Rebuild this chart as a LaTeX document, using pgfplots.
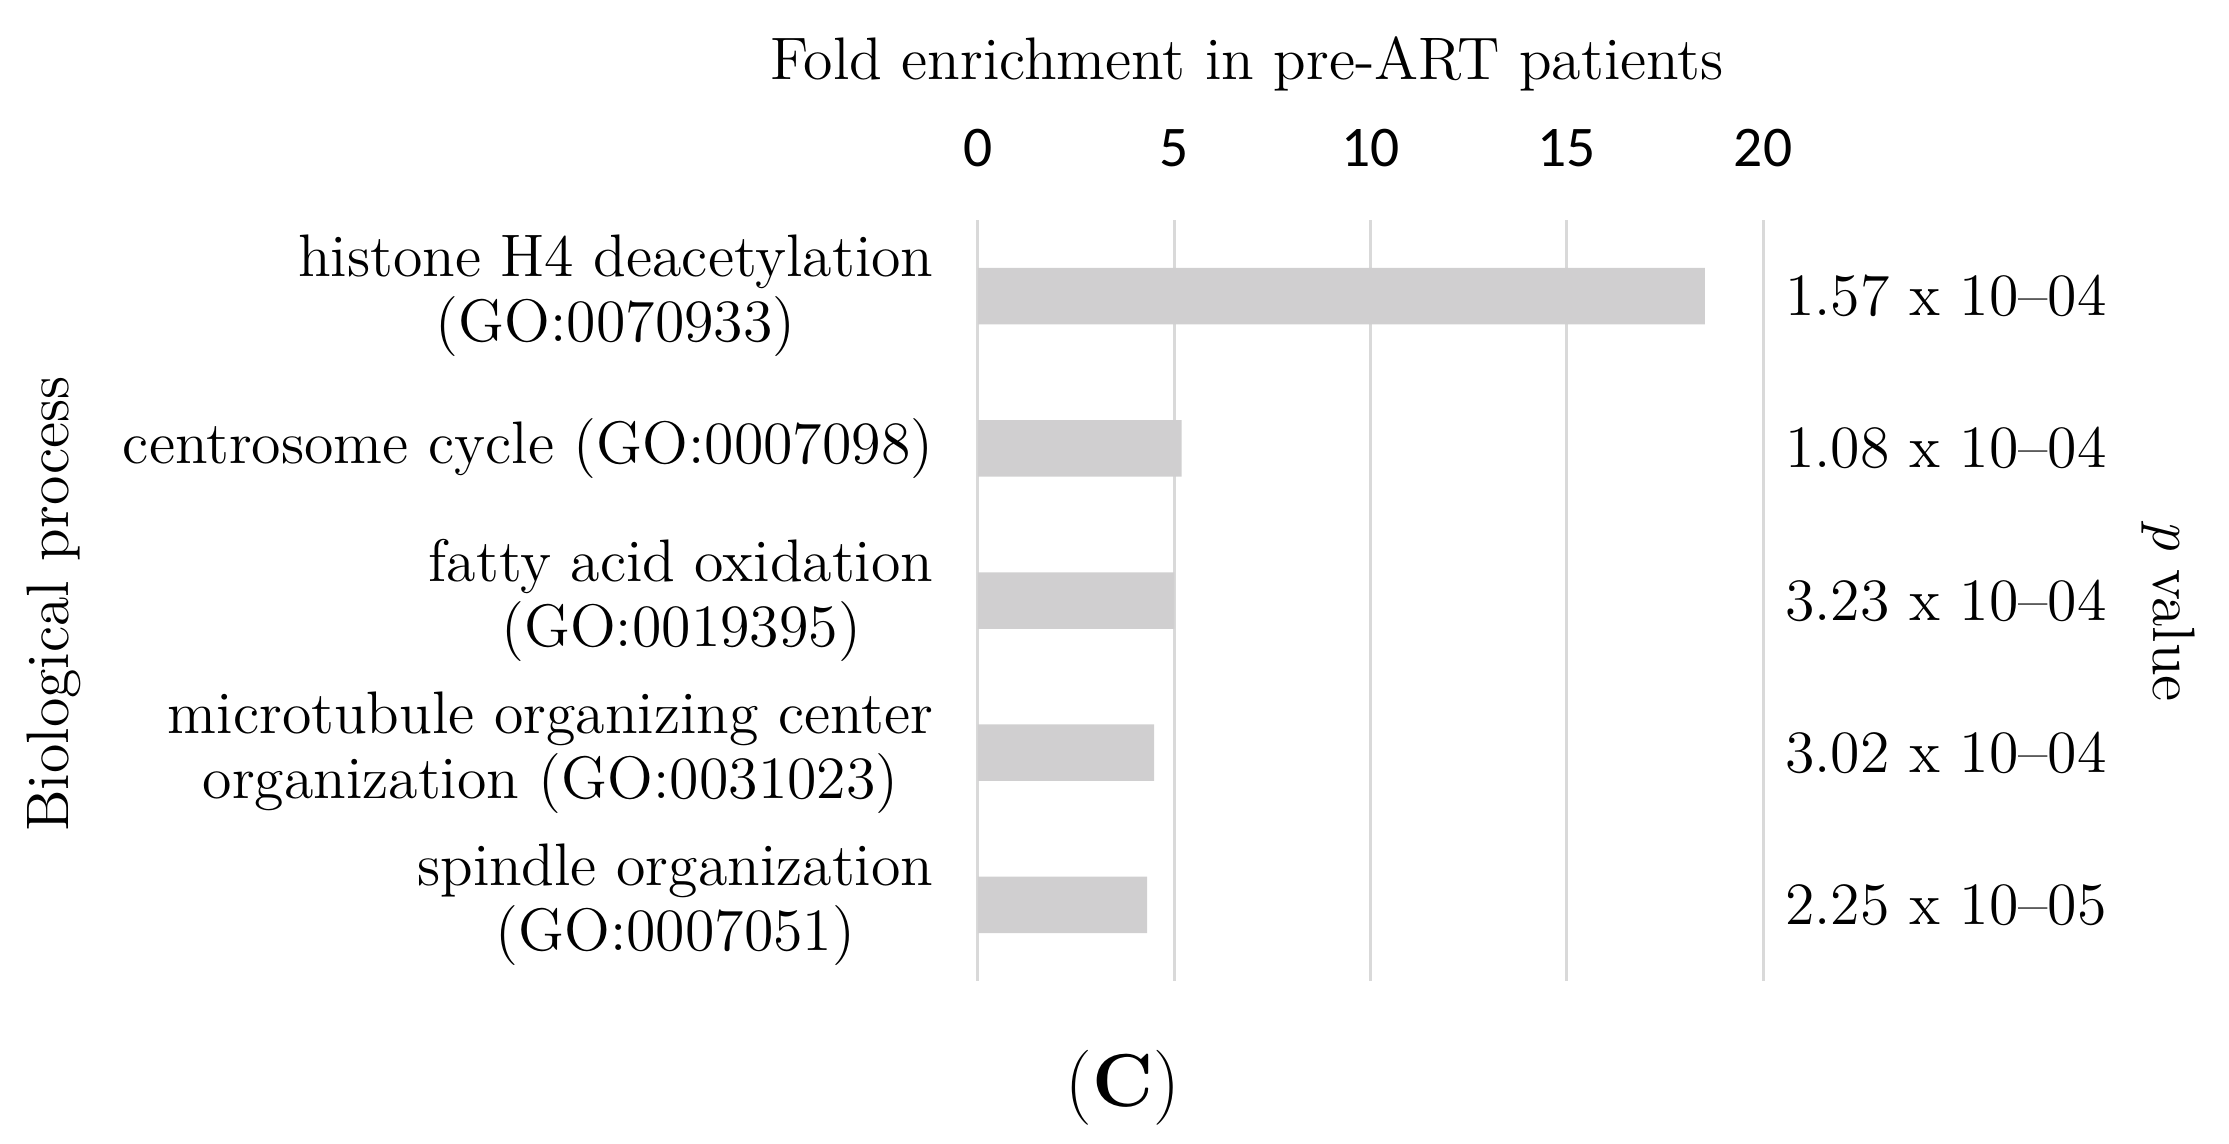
\documentclass[border=0pt]{standalone}
\usepackage{fontspec}
\newfontfamily\carlito{Carlito}
\usepackage{pgfplots}
\pgfplotsset{compat=1.18}

\definecolor{bargray}{RGB}{208,207,208}
\definecolor{gridgray}{RGB}{217,217,217}

\begin{document}
\begin{tikzpicture}
\begin{axis}[
    name=ax,
    scale only axis,
    width=157pt,
    height=152.2pt,
    xbar,
    bar width=11.3pt,
    xmin=0, xmax=20,
    ymin=-0.5, ymax=4.5,
    y dir=reverse,
    axis line style={draw=none},
    major tick length=0pt,
    xtick={0,5,10,15,20},
    ytick={0,1,2,3,4},
    yticklabels={
        {histone H4 deacetylation\\(GO:0070933)},
        {centrosome cycle (GO:0007098)},
        {fatty acid oxidation\\(GO:0019395)},
        {microtubule organizing center\\organization (GO:0031023)},
        {spindle organization\\(GO:0007051)}
    },
    yticklabel style={align=center, font=\fontsize{12}{13}\selectfont, xshift=-5.4pt},
    xticklabel pos=top,
    xticklabel style={font=\carlito\fontsize{11.5}{13}\selectfont, yshift=7pt},
    /pgf/number format/assume math mode=true,
    xmajorgrids,
    grid style={draw=gridgray, line width=0.6pt},
    clip=false
]

% --- fold enrichment ---
\addplot[fill=bargray, draw=none] coordinates {
    (18.52,0)
    (5.19,1)
    (5.00,2)
    (4.49,3)
    (4.31,4)
};

% --- p values ---
\node[anchor=west, inner sep=0pt, xshift=4.2pt, font=\fontsize{12}{14}\selectfont] at (axis cs:20,0) {1.57 x 10–04};
\node[anchor=west, inner sep=0pt, xshift=4.2pt, font=\fontsize{12}{14}\selectfont] at (axis cs:20,1) {1.08 x 10–04};
\node[anchor=west, inner sep=0pt, xshift=4.2pt, font=\fontsize{12}{14}\selectfont] at (axis cs:20,2) {3.23 x 10–04};
\node[anchor=west, inner sep=0pt, xshift=4.2pt, font=\fontsize{12}{14}\selectfont] at (axis cs:20,3) {3.02 x 10–04};
\node[anchor=west, inner sep=0pt, xshift=4.2pt, font=\fontsize{12}{14}\selectfont] at (axis cs:20,4) {2.25 x 10–05};

\end{axis}

% --- titles ---
\node[font=\fontsize{12}{14}\selectfont] at ([xshift=53.8pt,yshift=183.4pt]ax.south west) {Fold enrichment in pre-ART patients};
\node[font=\fontsize{12}{14}\selectfont, rotate=90] at ([xshift=-184.8pt,yshift=75.4pt]ax.south west) {Biological process};
\node[font=\fontsize{12}{14}\selectfont, rotate=-90] at ([xshift=238pt,yshift=74pt]ax.south west) {\textit{p} value};
\node[font=\fontsize{15}{18}\selectfont] at ([xshift=29pt,yshift=-21.4pt]ax.south west) {(\textbf{C})};

\pgfresetboundingbox
\useasboundingbox ([xshift=-195.6pt,yshift=-32.4pt]ax.south west) rectangle ([xshift=250.2pt,yshift=196.2pt]ax.south west);
\end{tikzpicture}
\end{document}
